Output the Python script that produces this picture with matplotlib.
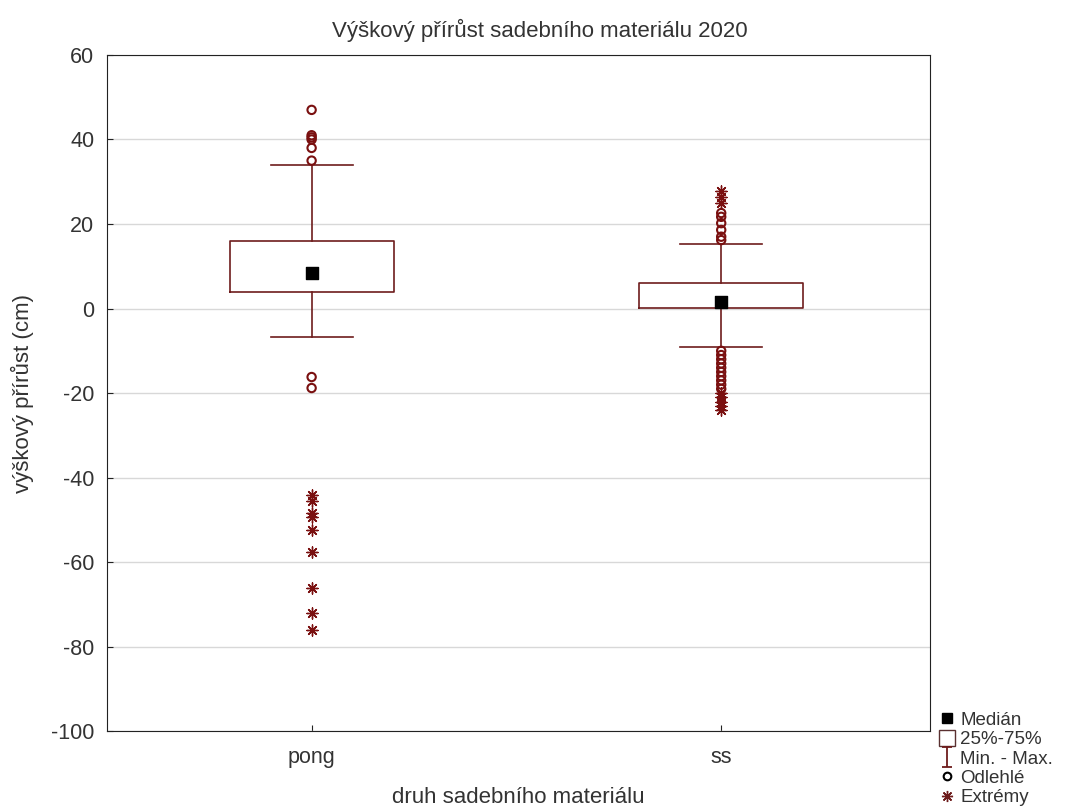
import matplotlib.pyplot as plt
import numpy as np
from matplotlib.lines import Line2D
from matplotlib.path import Path

plt.rcParams['font.family'] = ['Liberation Sans', 'DejaVu Sans']
plt.rcParams['axes.unicode_minus'] = False

categories = ["pong", "ss"]
medians = [8.5, 1.5]
q1 = [4.0, 0.2]
q3 = [16.0, 6.0]
whis_lo = [-6.8, -9.0]
whis_hi = [34.0, 15.2]

# odlehlé (outliers) and extrémy (extremes) per category
outliers = [
    [47.0, 41.0, 40.5, 40.0, 38.0, 35.0, -16.2, -18.8],
    [16.2, 17.0, 18.6, 20.2, 21.7, 22.6,
     -10.0, -11.0, -12.0, -13.0, -14.0, -15.0, -16.0, -17.0, -18.0, -19.0],
]
extremes = [
    [-44.2, -45.5, -48.3, -49.3, -52.3, -57.5, -66.2, -72.0, -76.0],
    [25.0, 26.5, 27.8, -20.0, -21.0, -22.0, -23.0, -24.0],
]

dark = "#6e1c1c"
mark = "#7a1010"
txt = "#333333"

fig = plt.figure(figsize=(10.79, 8.08), dpi=100)
ax = fig.add_axes([0.099, 0.095, 0.763, 0.837])

stats = []
for i, c in enumerate(categories):
    stats.append(dict(label=c, med=medians[i], q1=q1[i], q3=q3[i],
                      whislo=whis_lo[i], whishi=whis_hi[i], fliers=[]))

pos = np.arange(len(categories))
ax.bxp(stats, positions=pos, widths=0.4, showfliers=False,
       boxprops=dict(color=dark, linewidth=1.2),
       whiskerprops=dict(color=dark, linewidth=1.2),
       capprops=dict(color=dark, linewidth=1.2),
       medianprops=dict(linewidth=0), capwidths=0.2, zorder=3)

ax.scatter(pos, medians, marker='s', s=80, color='black', zorder=5)
for i in pos:
    ax.scatter([i] * len(outliers[i]), outliers[i], marker='o', s=36,
               facecolors='none', edgecolors=mark, linewidths=1.5, zorder=4)
    ax.scatter([i] * len(extremes[i]), extremes[i], marker=(8, 2, 0), s=64,
               color=mark, linewidths=1.0, zorder=4)

ax.set_xlim(-0.5, 1.51)
ax.set_ylim(-100, 60)
ax.set_yticks(np.arange(-100, 61, 20))
ax.set_xticks(pos)
ax.set_xticklabels(categories)
ax.yaxis.grid(True, color='#d8d8d8', linewidth=1)
ax.set_axisbelow(True)
ax.tick_params(direction='in', labelsize=15.5, colors='#222222', labelcolor=txt, length=4)
ax.tick_params(axis='y', pad=9)
ax.tick_params(axis='x', pad=11)
for s in ax.spines.values():
    s.set_color('#222222')

# title sits on the figure centre, not the axes centre
ax.set_title("Výškový přírůst sadebního materiálu 2020", fontsize=16, pad=13,
             color=txt, x=0.526)
ax.set_ylabel("výškový přírůst (cm)", fontsize=16, labelpad=12, color=txt)
ax.set_xlabel("druh sadebního materiálu", fontsize=16, labelpad=14, color=txt)

ibeam = Path([(-0.5, 1), (0.5, 1), (0, 1), (0, -1), (-0.5, -1), (0.5, -1)],
             [Path.MOVETO, Path.LINETO, Path.MOVETO, Path.LINETO, Path.MOVETO, Path.LINETO])
handles = [
    Line2D([], [], marker='s', color='black', linestyle='none', markersize=6.5),
    Line2D([], [], marker='s', markerfacecolor='white', markeredgecolor='#5a3030',
           linestyle='none', markersize=11, markeredgewidth=1.0),
    Line2D([], [], marker=ibeam, color=dark, linestyle='none', markersize=15, markeredgewidth=1.3),
    Line2D([], [], marker='o', markerfacecolor='none', markeredgecolor='black',
           linestyle='none', markersize=5.5, markeredgewidth=1.5),
    Line2D([], [], marker=(8, 2, 0), color=dark, linestyle='none', markersize=8),
]
labels = ["Medián", "25%-75%", "Min. - Max.", "Odlehlé", "Extrémy"]
leg = fig.legend(handles, labels, loc='lower left', bbox_to_anchor=(0.8706, 0.002),
                 frameon=False, fontsize=13.5, handlelength=0.8, handletextpad=0.3,
                 labelspacing=0.12, borderaxespad=0, borderpad=0)
for t in leg.get_texts():
    t.set_color(txt)

fig.savefig("out.png", dpi=100)
